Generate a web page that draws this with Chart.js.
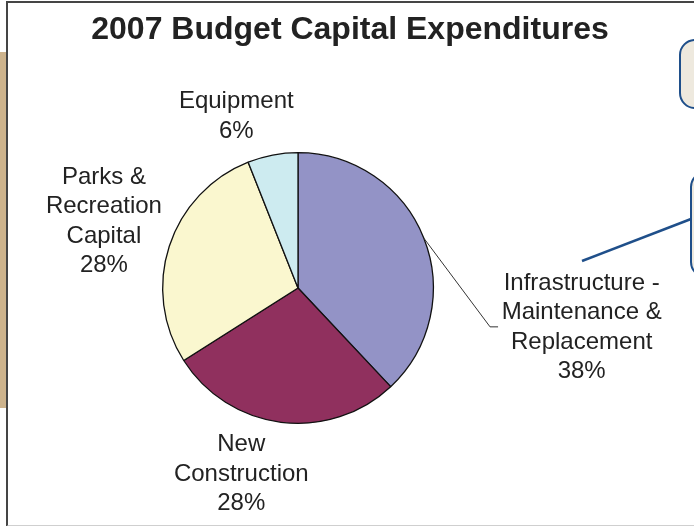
<!DOCTYPE html>
<html>
<head>
<meta charset="utf-8">
<script src="https://cdn.jsdelivr.net/npm/chart.js@4/dist/chart.umd.min.js"></script>
<style>
    html, body {
        margin: 0;
        padding: 0;
        width: 694px;
        height: 526px;
        overflow: hidden;
        background: #FFFFFF;
        position: relative;
    }

    .tan-bar {
        position: absolute;
        left: 0;
        top: 52px;
        width: 6px;
        height: 356px;
        background: #CDB38C;
    }

    .frame {
        position: absolute;
        left: 6px;
        top: 1px;
        width: 720px;
        height: 522px;
        border-top: 2px solid #454545;
        border-left: 2px solid #454545;
        border-bottom: 2px solid #CFCFCF;
    }

    .note-box {
        position: absolute;
        border: 2.5px solid #1F4F8A;
        border-radius: 16px;
        background: #EEE9DE;
    }

    .connector {
        position: absolute;
        left: 0;
        top: 0;
    }

    .chart-wrap {
        position: absolute;
        left: 0;
        top: 0;
        width: 694px;
        height: 526px;
    }
</style>
</head>
<body>
<div class="tan-bar"></div>
<div class="frame"></div>
<div class="note-box" style="left:679px; top:39px; width:60px; height:66px;"></div>
<div class="note-box" style="left:690px; top:171px; width:60px; height:103px;"></div>
<svg class="connector" width="694" height="526">
    <line x1="582" y1="261" x2="691" y2="219" stroke="#1F4F8A" stroke-width="2.5" />
</svg>
<div class="chart-wrap">
    <canvas id="budgetChart"></canvas>
</div>

<script>
// chart data
const chartTitle = "2007 Budget Capital Expenditures";

const categories = [
    ["Infrastructure -", "Maintenance &", "Replacement"],
    ["New", "Construction"],
    ["Parks &", "Recreation", "Capital"],
    ["Equipment"]
];

const shares = [38, 28, 28, 6];

const sliceColors = [
    "#9393C6", // Infrastructure — lavender
    "#90305E", // New Construction — plum
    "#FAF7CF", // Parks — pale yellow
    "#CDEBF0"  // Equipment — pale cyan
];

// where each label sits, in pie radii from the centre
const labelOffsets = [
    [2.096, 0.29],
    [-0.419, 1.375],
    [-1.434, -0.493],
    [-0.456, -1.268]
];

// leader line for the infrastructure label (elbow and end, in radii)
const leaderPoints = [[1.419, 0.287], [1.478, 0.287]];


const pieLabelsPlugin = {
    id: "pieLabels",

    afterDatasetsDraw: function (chart) {
        const ctx = chart.ctx;
        const meta = chart.getDatasetMeta(0);
        const values = chart.data.datasets[0].data;

        const total = values.reduce(function (sum, value) {
            return sum + Number(value);
        }, 0);

        ctx.save();

        // title
        ctx.fillStyle = "#222222";
        ctx.font = "bold 32px 'Liberation Sans', Arial, sans-serif";
        ctx.textAlign = "center";
        ctx.textBaseline = "middle";
        ctx.fillText(chartTitle, chart.width / 2 + 3, 30);

        ctx.font = "24px 'Liberation Sans', Arial, sans-serif";

        meta.data.forEach(function (arc, index) {
            const props = arc.getProps(
                ["x", "y", "outerRadius", "startAngle", "endAngle"],
                true
            );

            const r = props.outerRadius;
            const offset = labelOffsets[index];
            const cx = props.x + offset[0] * r;
            const cy = props.y + offset[1] * r;

            const percent = Math.round(values[index] / total * 100) + "%";
            const lines = chart.data.labels[index].concat([percent]);
            const lineHeight = 29.5;
            const top = cy - (lines.length - 1) * lineHeight / 2;

            lines.forEach(function (line, lineIndex) {
                ctx.fillText(line, cx, top + lineIndex * lineHeight);
            });

            if (index === 0) {
                const mid = (props.startAngle + props.endAngle) / 2;

                ctx.strokeStyle = "#333333";
                ctx.lineWidth = 1;
                ctx.beginPath();
                ctx.moveTo(
                    props.x + Math.cos(mid) * r,
                    props.y + Math.sin(mid) * r
                );

                leaderPoints.forEach(function (point) {
                    ctx.lineTo(props.x + point[0] * r, props.y + point[1] * r);
                });

                ctx.stroke();
            }
        });

        ctx.restore();
    }
};


new Chart(document.getElementById("budgetChart"), {
    type: "pie",

    data: {
        labels: categories,

        datasets: [
            {
                data: shares,
                backgroundColor: sliceColors,
                borderColor: "#111111",
                borderWidth: 1.3,
                hoverOffset: 0
            }
        ]
    },

    options: {
        responsive: true,
        maintainAspectRatio: false,
        devicePixelRatio: 1,
        animation: false,
        events: [],

        layout: {
            padding: {
                left: 162,
                right: 260,
                top: 152,
                bottom: 102
            }
        },

        plugins: {
            legend: {
                display: false
            },

            tooltip: {
                enabled: false
            }
        }
    },

    plugins: [pieLabelsPlugin]
});
</script>
</body>
</html>
